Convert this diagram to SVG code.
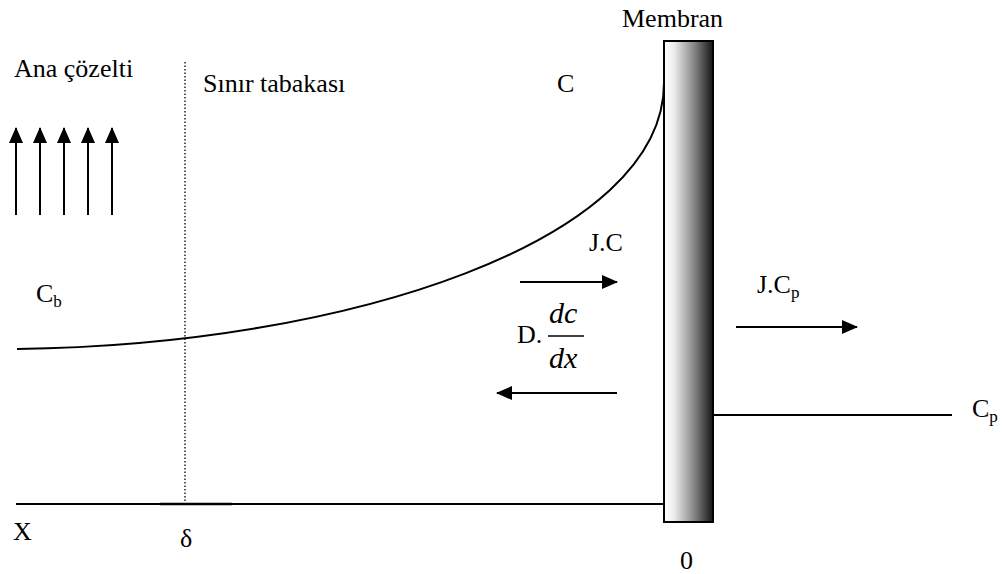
<svg xmlns="http://www.w3.org/2000/svg" width="1002" height="574" viewBox="0 0 1002 574">
<style>
text{font-family:"Liberation Serif","Times New Roman","DejaVu Serif",serif;font-size:26px;fill:#000}
.sub{font-size:17px}
.it{font-style:italic;font-size:30px}
.ln{stroke:#000;stroke-width:2;fill:none}
</style>
<defs>
<marker id="ah" viewBox="0 0 16 14" refX="15" refY="7" markerWidth="16" markerHeight="14" markerUnits="userSpaceOnUse" orient="auto">
<path d="M0,0 L16,7 L0,14 Z" fill="#000"/>
</marker>
<linearGradient id="mg" x1="0" y1="0" x2="1" y2="0">
<stop offset="0" stop-color="#ffffff"/>
<stop offset="0.2" stop-color="#eeeeee"/>
<stop offset="0.6" stop-color="#8a8a8a"/>
<stop offset="1" stop-color="#151515"/>
</linearGradient>
</defs>
<rect width="1002" height="574" fill="#fff"/>
<g id="labels" font-family="Liberation Serif, Times New Roman, serif">
<text x="14" y="77">Ana çözelti</text>
<text x="203" y="92">Sınır tabakası</text>
<text x="622" y="27">Membran</text>
<text x="557" y="92">C</text>
<text x="36" y="302">C<tspan class="sub" dy="5">b</tspan></text>
<text x="13" y="540">X</text>
<text x="180" y="547">δ</text>
<text x="680" y="569">0</text>
</g>
<g id="membrane">
<rect x="664" y="41" width="49" height="481" fill="url(#mg)" stroke="#000" stroke-width="2"/>
</g>
<g id="connectors">
<line class="ln" x1="16" y1="215" x2="16" y2="128" marker-end="url(#ah)"/>
<line class="ln" x1="40" y1="215" x2="40" y2="128" marker-end="url(#ah)"/>
<line class="ln" x1="64" y1="215" x2="64" y2="128" marker-end="url(#ah)"/>
<line class="ln" x1="88" y1="215" x2="88" y2="128" marker-end="url(#ah)"/>
<line class="ln" x1="112" y1="215" x2="112" y2="128" marker-end="url(#ah)"/>
<line x1="185" y1="62" x2="185" y2="504" stroke="#000" stroke-width="1.3" stroke-dasharray="1.5,2"/>
<line class="ln" x1="16" y1="504" x2="664" y2="504"/>
<line x1="160" y1="504" x2="232" y2="504" stroke="#000" stroke-width="2.6"/>
<path class="ln" d="M17,349 C350,345 664,240 664,83"/>
<line class="ln" x1="520" y1="282" x2="617" y2="282" marker-end="url(#ah)"/>
<line class="ln" x1="617" y1="393" x2="497" y2="393" marker-end="url(#ah)"/>
<line class="ln" x1="736" y1="327" x2="857" y2="327" marker-end="url(#ah)"/>
<line class="ln" x1="713" y1="415" x2="952" y2="415"/>
</g>
<g id="flux-labels" font-family="Liberation Serif, Times New Roman, serif">
<text x="589" y="251">J.C</text>
<text x="517" y="343">D.</text>
<text class="it" x="549" y="323">dc</text>
<line x1="548" y1="336" x2="584" y2="336" stroke="#000" stroke-width="1.5"/>
<text class="it" x="549" y="368">dx</text>
<text x="757" y="293">J.C<tspan class="sub" dy="5">p</tspan></text>
<text x="972" y="417">C<tspan class="sub" dy="5">p</tspan></text>
</g>
</svg>
